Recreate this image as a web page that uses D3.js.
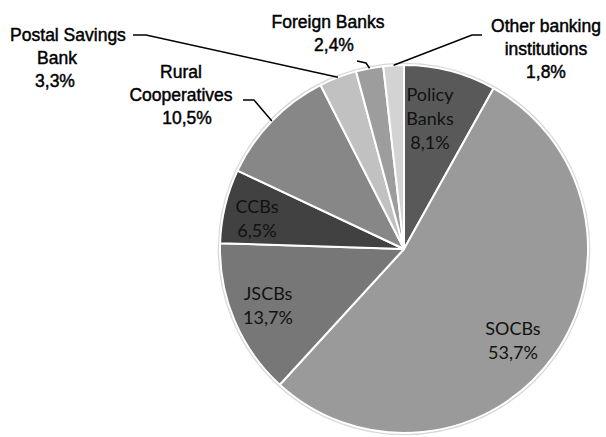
<!DOCTYPE html>
<html>
<head>
<meta charset="utf-8">
<script src="https://cdn.jsdelivr.net/npm/d3@7"></script>
<style>
  html, body { margin: 0; padding: 0; background: #fff; }
  svg { display: block; }
</style>
</head>
<body>
<div id="chart"></div>
<script>
// slice order goes clockwise from 12 o'clock
const categories = ["Policy Banks", "SOCBs", "JSCBs", "CCBs", "Rural Cooperatives", "Postal Savings Bank", "Foreign Banks", "Other banking institutions"];
const shares = [8.1, 53.7, 13.7, 6.5, 10.5, 3.3, 2.4, 1.8];
const shareLabels = ["8,1%", "53,7%", "13,7%", "6,5%", "10,5%", "3,3%", "2,4%", "1,8%"];
// how each name is broken in the picture
const nameLines = [["Policy", "Banks"], ["SOCBs"], ["JSCBs"], ["CCBs"], ["Rural", "Cooperatives"], ["Postal Savings", "Bank"], ["Foreign Banks"], ["Other banking", "institutions"]];
const insideLabel = [true, true, true, true, false, false, false, false];

const width = 606, height = 437;
const cx = 404, cy = 249, radius = 184;

const color = d3.scaleOrdinal()
    .domain(categories)
    .range(["#595959", "#9a9a9a", "#777777", "#414141", "#878787", "#c1c1c1", "#9d9d9d", "#d3d3d3"]);

// label placement, by slice index
const inner = {
    0: { x: 430, y: 101 },
    1: { x: 513, y: 335 },
    2: { x: 268, y: 300 },
    3: { x: 257, y: 213 }
};
const outer = {
    4: { xs: [181, 181, 187], y: 78, knee: [[243, 100], [254, 100]] },
    5: { xs: [68, 57, 55], y: 41, knee: [[133, 35], [146, 35]] },
    6: { xs: [328, 334], y: 28, knee: [[357, 61], [366, 63]] },
    7: { xs: [546, 546, 546], y: 32, knee: [[482, 35], [472, 35]] }
};

const svg = d3.select("#chart").append("svg")
    .attr("width", width)
    .attr("height", height);

const pie = d3.pie().sort(null).value(d => d);
const arcs = pie(shares);

const arc = d3.arc().innerRadius(0).outerRadius(radius);
const edge = d3.arc().innerRadius(radius).outerRadius(radius);

const g = svg.append("g").attr("transform", `translate(${cx},${cy})`);

// faint rim around the pie
g.append("circle")
    .attr("r", radius + 1)
    .attr("fill", "none")
    .attr("stroke", "#d8d8d8")
    .attr("stroke-width", 2.5);

g.selectAll("path.slice")
    .data(arcs)
    .join("path")
    .attr("class", "slice")
    .attr("d", arc)
    .attr("fill", (d, i) => color(categories[i]))
    .attr("stroke", "#fff")
    .attr("stroke-width", 2)
    .attr("stroke-linejoin", "round");

// leader lines for the small slices
const line = d3.line();
svg.append("g").selectAll("path")
    .data(arcs.filter((d, i) => outer[i]))
    .join("path")
    .attr("d", d => {
        const i = d.index;
        const [ex, ey] = edge.centroid(d);
        const pts = outer[i].knee.slice().reverse();
        return line([[cx + ex, cy + ey], ...pts]);
    })
    .attr("fill", "none")
    .attr("stroke", "#000")
    .attr("stroke-width", 1.5);

// labels inside slices
const innerText = svg.append("g").selectAll("text")
    .data(arcs.filter((d, i) => insideLabel[i]))
    .join("text")
    .attr("font-family", "Lato, 'Open Sans', sans-serif")
    .attr("font-size", 18)
    .attr("fill", "#111")
    .attr("text-anchor", "middle");

innerText.each(function (d) {
    const i = d.index;
    const lines = [...nameLines[i], shareLabels[i]];
    d3.select(this).selectAll("tspan")
        .data(lines)
        .join("tspan")
        .attr("x", inner[i].x)
        .attr("y", (t, k) => inner[i].y + k * 24)
        .text(t => t);
});

// labels outside the pie
const outerText = svg.append("g").selectAll("text")
    .data(arcs.filter((d, i) => outer[i]))
    .join("text")
    .attr("font-family", "'Liberation Sans', Arial, sans-serif")
    .attr("font-size", 17.5)
    .attr("fill", "#000")
    .attr("stroke", "#000")
    .attr("stroke-width", 0.45)
    .attr("text-anchor", "middle");

outerText.each(function (d) {
    const i = d.index;
    const lines = [...nameLines[i], shareLabels[i]];
    d3.select(this).selectAll("tspan")
        .data(lines)
        .join("tspan")
        .attr("x", (t, k) => outer[i].xs[k])
        .attr("y", (t, k) => outer[i].y + k * 23)
        .text(t => t);
});
</script>
</body>
</html>
